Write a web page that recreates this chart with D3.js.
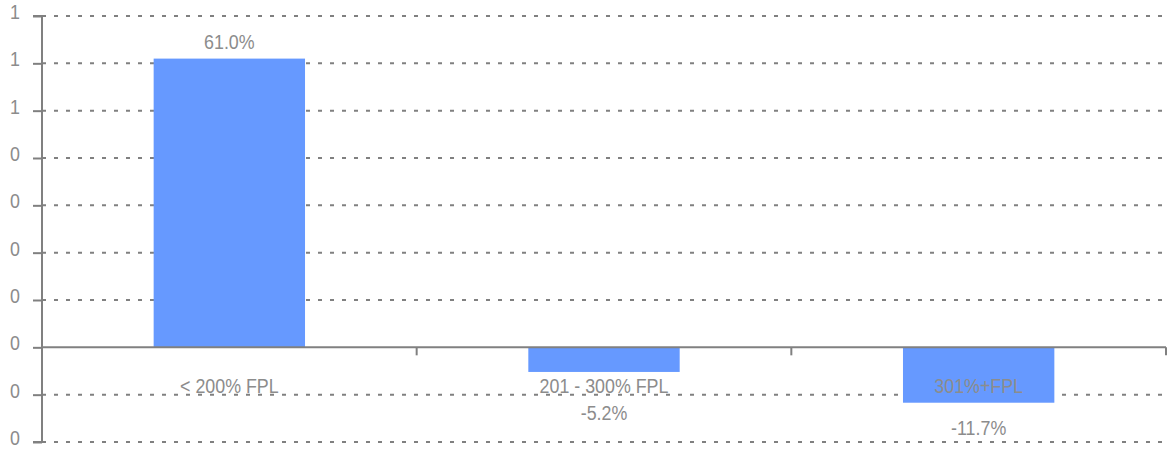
<!DOCTYPE html>
<html>
<head>
<meta charset="utf-8">
<script src="https://cdn.jsdelivr.net/npm/d3@7"></script>
<style>
  html, body { margin: 0; padding: 0; background: #fff; }
  svg text { font-family: "Liberation Sans", Arial, sans-serif; font-size: 21px; fill: #8c8c8c; }
</style>
</head>
<body>
<svg id="chart" width="1170" height="449"></svg>
<script>
// Change by income band (share, as a fraction)
const categories = ["< 200% FPL", "201 - 300% FPL", "301%+FPL"];
const values = [0.610, -0.052, -0.117];
const valueLabels = ["61.0%", "-5.2%", "-11.7%"];
const yTicks = [-0.2, -0.1, 0, 0.1, 0.2, 0.3, 0.4, 0.5, 0.6, 0.7];
const yTickLabels = ["0", "0", "0", "0", "0", "0", "0", "1", "1", "1"];

const svg = d3.select("#chart");
const plotLeft = 42, plotRight = 1166, plotTop = 16, plotBottom = 442;
const grey = "#808080";
const narrow = 0.85; // horizontal squeeze to give a condensed face

const x = d3.scaleBand().domain(categories).range([plotLeft, plotRight]).paddingInner(0).paddingOuter(0);
const y = d3.scaleLinear().domain([-0.2, 0.7]).range([plotBottom, plotTop]);
const barW = x.bandwidth() * 0.404;

// condensed text placed at (px, py)
function label(g, px, py, anchor, str) {
  return g.append("text")
    .attr("transform", `translate(${px},${py}) scale(${narrow},1)`)
    .attr("text-anchor", anchor)
    .text(str);
}

// dotted gridlines (all except zero)
svg.append("g").selectAll("line").data(yTicks.filter(d => d !== 0)).join("line")
  .attr("x1", plotLeft).attr("x2", plotRight)
  .attr("y1", d => y(d)).attr("y2", d => y(d))
  .attr("stroke", grey).attr("stroke-width", 2).attr("stroke-dasharray", "4,8");

// bars
svg.append("g").selectAll("rect").data(values).join("rect")
  .attr("x", (d, i) => x(categories[i]) + (x.bandwidth() - barW) / 2)
  .attr("width", barW)
  .attr("y", d => y(Math.max(0, d)))
  .attr("height", d => Math.abs(y(d) - y(0)))
  .attr("fill", "#6699ff");

// y axis (line and ticks from d3.axisLeft, labels condensed)
const yAxis = d3.axisLeft(y).tickValues(yTicks).tickSize(9).tickFormat("");
const ga = svg.append("g").attr("transform", `translate(${plotLeft},0)`).call(yAxis);
ga.select(".domain").attr("stroke", grey).attr("stroke-width", 2).attr("d", `M-9,${plotTop}H0V${plotBottom}H-9`);
ga.selectAll(".tick line").attr("stroke", grey).attr("stroke-width", 2);
const gy = svg.append("g");
yTicks.forEach((t, i) => label(gy, 20, y(t) + 3, "end", yTickLabels[i]));

// x axis at zero with category boundary ticks
svg.append("line").attr("x1", plotLeft).attr("x2", plotRight).attr("y1", y(0)).attr("y2", y(0))
  .attr("stroke", grey).attr("stroke-width", 2);
const bounds = categories.map(c => x(c) + x.bandwidth());
svg.append("g").selectAll("line").data(bounds).join("line")
  .attr("x1", d => d).attr("x2", d => d)
  .attr("y1", y(0)).attr("y2", y(0) + 8)
  .attr("stroke", grey).attr("stroke-width", 2);

// category labels
const catY = y(0) + 46;
const gc = svg.append("g");
categories.forEach(c => label(gc, x(c) + x.bandwidth() / 2, catY, "middle", c));

// value labels: above positive bars, below negative bars (kept clear of the category label)
const gv = svg.append("g");
values.forEach((v, i) => {
  const cx = x(categories[i]) + x.bandwidth() / 2;
  const ly = v >= 0 ? y(v) - 10 : Math.max(y(v) + 32, catY + 27);
  label(gv, cx, ly, "middle", valueLabels[i]);
});
</script>
</body>
</html>
